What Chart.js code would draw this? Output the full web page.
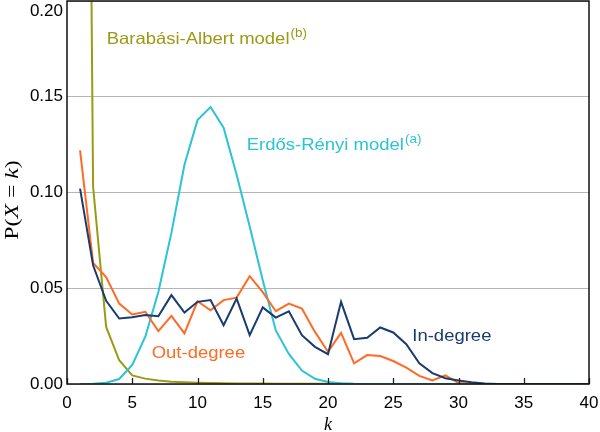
<!DOCTYPE html>
<html lang="en">
<head>
<meta charset="UTF-8">
<title>Degree distribution</title>
<script src="https://cdn.jsdelivr.net/npm/chart.js"></script>
<style>
  html, body { margin: 0; padding: 0; background: #fff; }
  #wrap { width: 600px; height: 432px; }
</style>
</head>
<body>
<div id="wrap"><canvas id="degreeChart" width="600" height="432"></canvas></div>
<script>
// k = 1..40
const kValues = [1, 2, 3, 4, 5, 6, 7, 8, 9, 10, 11, 12, 13, 14, 15, 16, 17, 18, 19, 20,
                 21, 22, 23, 24, 25, 26, 27, 28, 29, 30, 31, 32, 33, 34, 35, 36, 37, 38, 39, 40];

const inDegree = [0.102, 0.062, 0.0434, 0.0342, 0.0349, 0.036, 0.0354, 0.0464, 0.0373, 0.0429,
                  0.0438, 0.0307, 0.0446, 0.0255, 0.040, 0.0347, 0.038, 0.0255, 0.0194, 0.0156,
                  0.0429, 0.0234, 0.0241, 0.0295, 0.0269, 0.0208, 0.0108, 0.0057, 0.003, 0.0018,
                  0.0009, 0.0002, 0, 0, 0, 0, 0, 0, 0, 0];

const outDegree = [0.122, 0.0632, 0.0559, 0.042, 0.0363, 0.0377, 0.0276, 0.0356, 0.0264, 0.0432,
                   0.0385, 0.0438, 0.0451, 0.0563, 0.048, 0.038, 0.042, 0.0394, 0.0272, 0.0168,
                   0.0267, 0.0108, 0.0151, 0.0146, 0.012, 0.0085, 0.0042, 0.0018, 0.0045, 0.0005,
                   0.0001, 0, 0, 0, 0, 0, 0, 0, 0, 0];

const erdosRenyi = [0, 0.0001, 0.0007, 0.0026, 0.0099, 0.0247, 0.048, 0.0789, 0.1145, 0.1378,
                    0.1446, 0.1338, 0.1093, 0.0822, 0.0542, 0.028, 0.0157, 0.007, 0.0027, 0.001,
                    0.0004, 0.0001, 0, 0, 0, 0, 0, 0, 0, 0,
                    0, 0, 0, 0, 0, 0, 0, 0, 0, 0];

const barabasiAlbert = [0.9, 0.103, 0.0298, 0.0124, 0.0045, 0.0028, 0.0018, 0.0012, 0.0009, 0.0007,
                        0.0005, 0.0004, 0.0003, 0.00025, 0.0002, 0.00016, 0.00013, 0.00011, 0.0001, 0.00008,
                        0.00007, 0.00006, 0.00005, 0.00004, 0.00004, 0.00003, 0.00003, 0.00002, 0.00002, 0.00002,
                        0.00002, 0.00001, 0.00001, 0.00001, 0.00001, 0.00001, 0.00001, 0.00001, 0, 0];

const xTicks = [0, 5, 10, 15, 20, 25, 30, 35, 40];
const yTicks = [0, 0.05, 0.10, 0.15, 0.20];

const colIn = '#183c6e';
const colOut = '#ff6b24';
const colER = '#2ac4d4';
const colBA = '#9a9a14';

// text labels placed in data coordinates (k, P)
const notes = [
  { text: 'Barabási-Albert model', sup: '(b)', color: colBA, k: 3.04, p: 0.1776 },
  { text: 'Erdős-Rényi model', sup: '(a)', color: colER, k: 13.77, p: 0.1224 },
  { text: 'In-degree', sup: '', color: colIn, k: 26.46, p: 0.0227 },
  { text: 'Out-degree', sup: '', color: colOut, k: 6.49, p: 0.0134 }
];

function toPoints(arr) {
  return kValues.map((k, i) => ({ x: k, y: arr[i] }));
}

const SANS = '"Liberation Sans", Arial, sans-serif';
const SERIF = '"Liberation Serif", "Times New Roman", serif';

// box, inside ticks, axis titles, notes
const decorPlugin = {
  id: 'decor',
  afterDraw(chart) {
    const ctx = chart.ctx;
    const a = chart.chartArea;
    const xs = chart.scales.x, ys = chart.scales.y;
    ctx.save();

    // inside tick marks on x
    ctx.strokeStyle = '#222';
    ctx.lineWidth = 1.3;
    xTicks.forEach(v => {
      const px = Math.round(xs.getPixelForValue(v)) + 0.5;
      ctx.beginPath();
      ctx.moveTo(px, a.bottom);
      ctx.lineTo(px, a.bottom - 6);
      ctx.stroke();
    });

    // frame
    ctx.strokeStyle = '#111';
    ctx.lineWidth = 1.5;
    ctx.strokeRect(a.left, a.top, a.right - a.left, a.bottom - a.top);

    // top y label sits below its tick
    ctx.fillStyle = '#000';
    ctx.font = '17px ' + SANS;
    ctx.textAlign = 'right';
    ctx.textBaseline = 'middle';
    ctx.fillText(yTicks[yTicks.length - 1].toFixed(2), a.left - 4, 11);

    // x title
    ctx.font = 'italic 18px ' + SERIF;
    ctx.textAlign = 'center';
    ctx.textBaseline = 'alphabetic';
    ctx.fillText('k', (a.left + a.right) / 2, 430);

    // y title P(X = k), rotated
    const parts = [['P(', ''], ['X', 'italic '], [' = ', ''], ['k', 'italic '], [')', '']];
    ctx.save();
    ctx.translate(18, 200);
    ctx.rotate(-Math.PI / 2);
    ctx.scale(1.25, 1);
    let total = 0;
    parts.forEach(p => { ctx.font = p[1] + '19px ' + SERIF; total += ctx.measureText(p[0]).width; });
    let cx = -total / 2;
    ctx.textAlign = 'left';
    parts.forEach(p => {
      ctx.font = p[1] + '19px ' + SERIF;
      ctx.fillText(p[0], cx, 0);
      cx += ctx.measureText(p[0]).width;
    });
    ctx.restore();

    // series notes
    notes.forEach(n => {
      const px = xs.getPixelForValue(n.k);
      const py = ys.getPixelForValue(n.p);
      ctx.save();
      ctx.translate(px, py);
      ctx.scale(1.12, 1);
      ctx.fillStyle = n.color;
      ctx.textAlign = 'left';
      ctx.textBaseline = 'alphabetic';
      ctx.font = '16.5px ' + SANS;
      ctx.fillText(n.text, 0, 0);
      if (n.sup) {
        const w = ctx.measureText(n.text).width;
        ctx.font = '12px ' + SANS;
        ctx.fillText(n.sup, w + 1, -7);
      }
      ctx.restore();
    });

    ctx.restore();
  }
};

const ctx = document.getElementById('degreeChart').getContext('2d');
const degreeChart = new Chart(ctx, {
  type: 'line',
  data: {
    datasets: [
      { label: 'In-degree', data: toPoints(inDegree), borderColor: colIn },
      { label: 'Out-degree', data: toPoints(outDegree), borderColor: colOut },
      { label: 'Erdős-Rényi model', data: toPoints(erdosRenyi), borderColor: colER },
      { label: 'Barabási-Albert model', data: toPoints(barabasiAlbert), borderColor: colBA }
    ]
  },
  options: {
    responsive: false,
    animation: false,
    devicePixelRatio: 1,
    layout: { padding: { top: 1, right: 11, left: 0, bottom: 0 } },
    elements: {
      line: { borderWidth: 2, tension: 0, fill: false },
      point: { radius: 0, hoverRadius: 0 }
    },
    plugins: {
      legend: { display: false },
      tooltip: { enabled: false }
    },
    scales: {
      x: {
        type: 'linear',
        min: 0,
        max: 40,
        afterBuildTicks: s => { s.ticks = xTicks.map(v => ({ value: v })); },
        afterFit: s => { s.height = 48; s.paddingLeft = 0; s.paddingRight = 0; },
        ticks: {
          color: '#000',
          font: { family: SANS, size: 17 },
          padding: 9,
          maxRotation: 0,
          autoSkip: false
        },
        grid: { display: false, drawTicks: false },
        border: { display: false }
      },
      y: {
        type: 'linear',
        min: 0,
        max: 0.2,
        afterBuildTicks: s => { s.ticks = yTicks.map(v => ({ value: v })); },
        afterFit: s => { s.width = 67; s.paddingTop = 0; s.paddingBottom = 0; },
        ticks: {
          color: '#000',
          font: { family: SANS, size: 17 },
          padding: 4,
          callback: (v, i) => i === yTicks.length - 1 ? '' : v.toFixed(2)
        },
        grid: { color: '#b5b5b5', lineWidth: 1, drawTicks: false },
        border: { display: false }
      }
    }
  },
  plugins: [decorPlugin]
});
</script>
</body>
</html>
